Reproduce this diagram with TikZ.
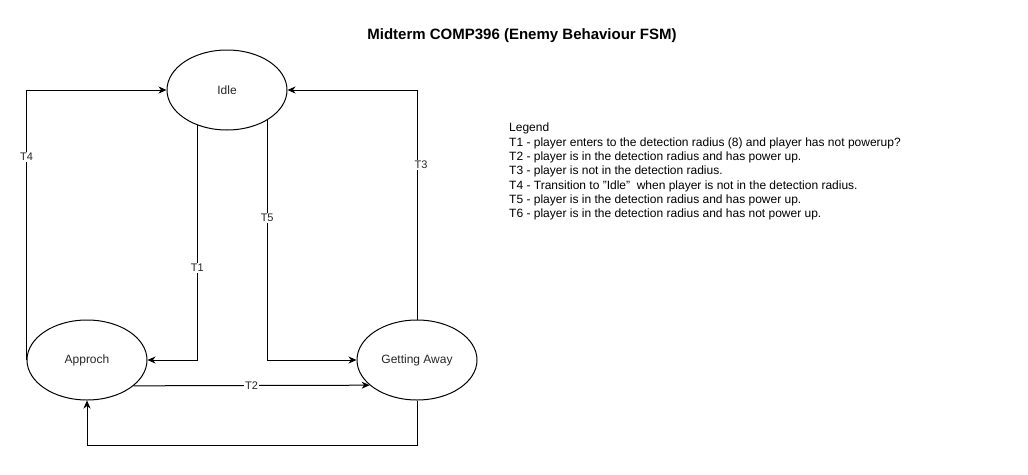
\documentclass[tikz,border=0pt]{standalone}
\usepackage{fontspec}
\setmainfont{Liberation Sans}
\usetikzlibrary{arrows.meta,shapes.geometric}
\begin{document}
\begin{tikzpicture}[x=1pt,y=-1pt,
  state/.style={ellipse,draw,line width=1pt,minimum width=120pt,minimum height=80pt,inner sep=0pt,font=\fontsize{12}{14}\selectfont,text=black!85},
  edge/.style={line width=1pt,-{Stealth[length=8pt,width=7pt,inset=2.5pt]}},
  lbl/.style={fill=white,inner sep=1pt,font=\fontsize{11}{13}\selectfont,text=black!85}]
\useasboundingbox (0,0) rectangle (1028,474);
\node[font=\bfseries\fontsize{15}{17}\selectfont] (title) at (522,36) {Midterm COMP396 (Enemy Behaviour FSM)};
\node[state] (Idle) at (227,90) {Idle};
\node[state] (Approch) at (87,360) {Approch};
\node[state] (Getting) at (417,360) {Getting Away};
\draw[edge] (Approch.west) |- node[lbl,pos=0.376] {T4} (Idle.west);
\draw[edge] (Idle.230.4) |- node[lbl,pos=0.304] {T1} (Approch.east);
\draw[edge] (Idle.323.13) |- node[lbl,pos=0.204] {T5} (Getting.west);
\draw[edge] (Getting.north) |- node[lbl,pos=0.337,xshift=4pt] {T3} (Idle.east);
\draw[edge] (Approch.331.89) -- node[lbl] {T2} (Getting.208.11);
\draw[edge] (Getting.south) -- ++(0,45) -| (Approch.south);
\node[anchor=north west,align=left,inner sep=0pt,font=\fontsize{12}{14.3}\selectfont] (legend) at (509,123) {Legend\\
T1 - player enters to the detection radius (8) and player has not powerup?\\
T2 - player is in the detection radius and has power up.\\
T3 - player is not in the detection radius.\\
T4 - Transition to "Idle"\ \ when player is not in the detection radius.\\
T5 - player is in the detection radius and has power up.\\
T6 - player is in the detection radius and has not power up.};
\end{tikzpicture}
\end{document}
